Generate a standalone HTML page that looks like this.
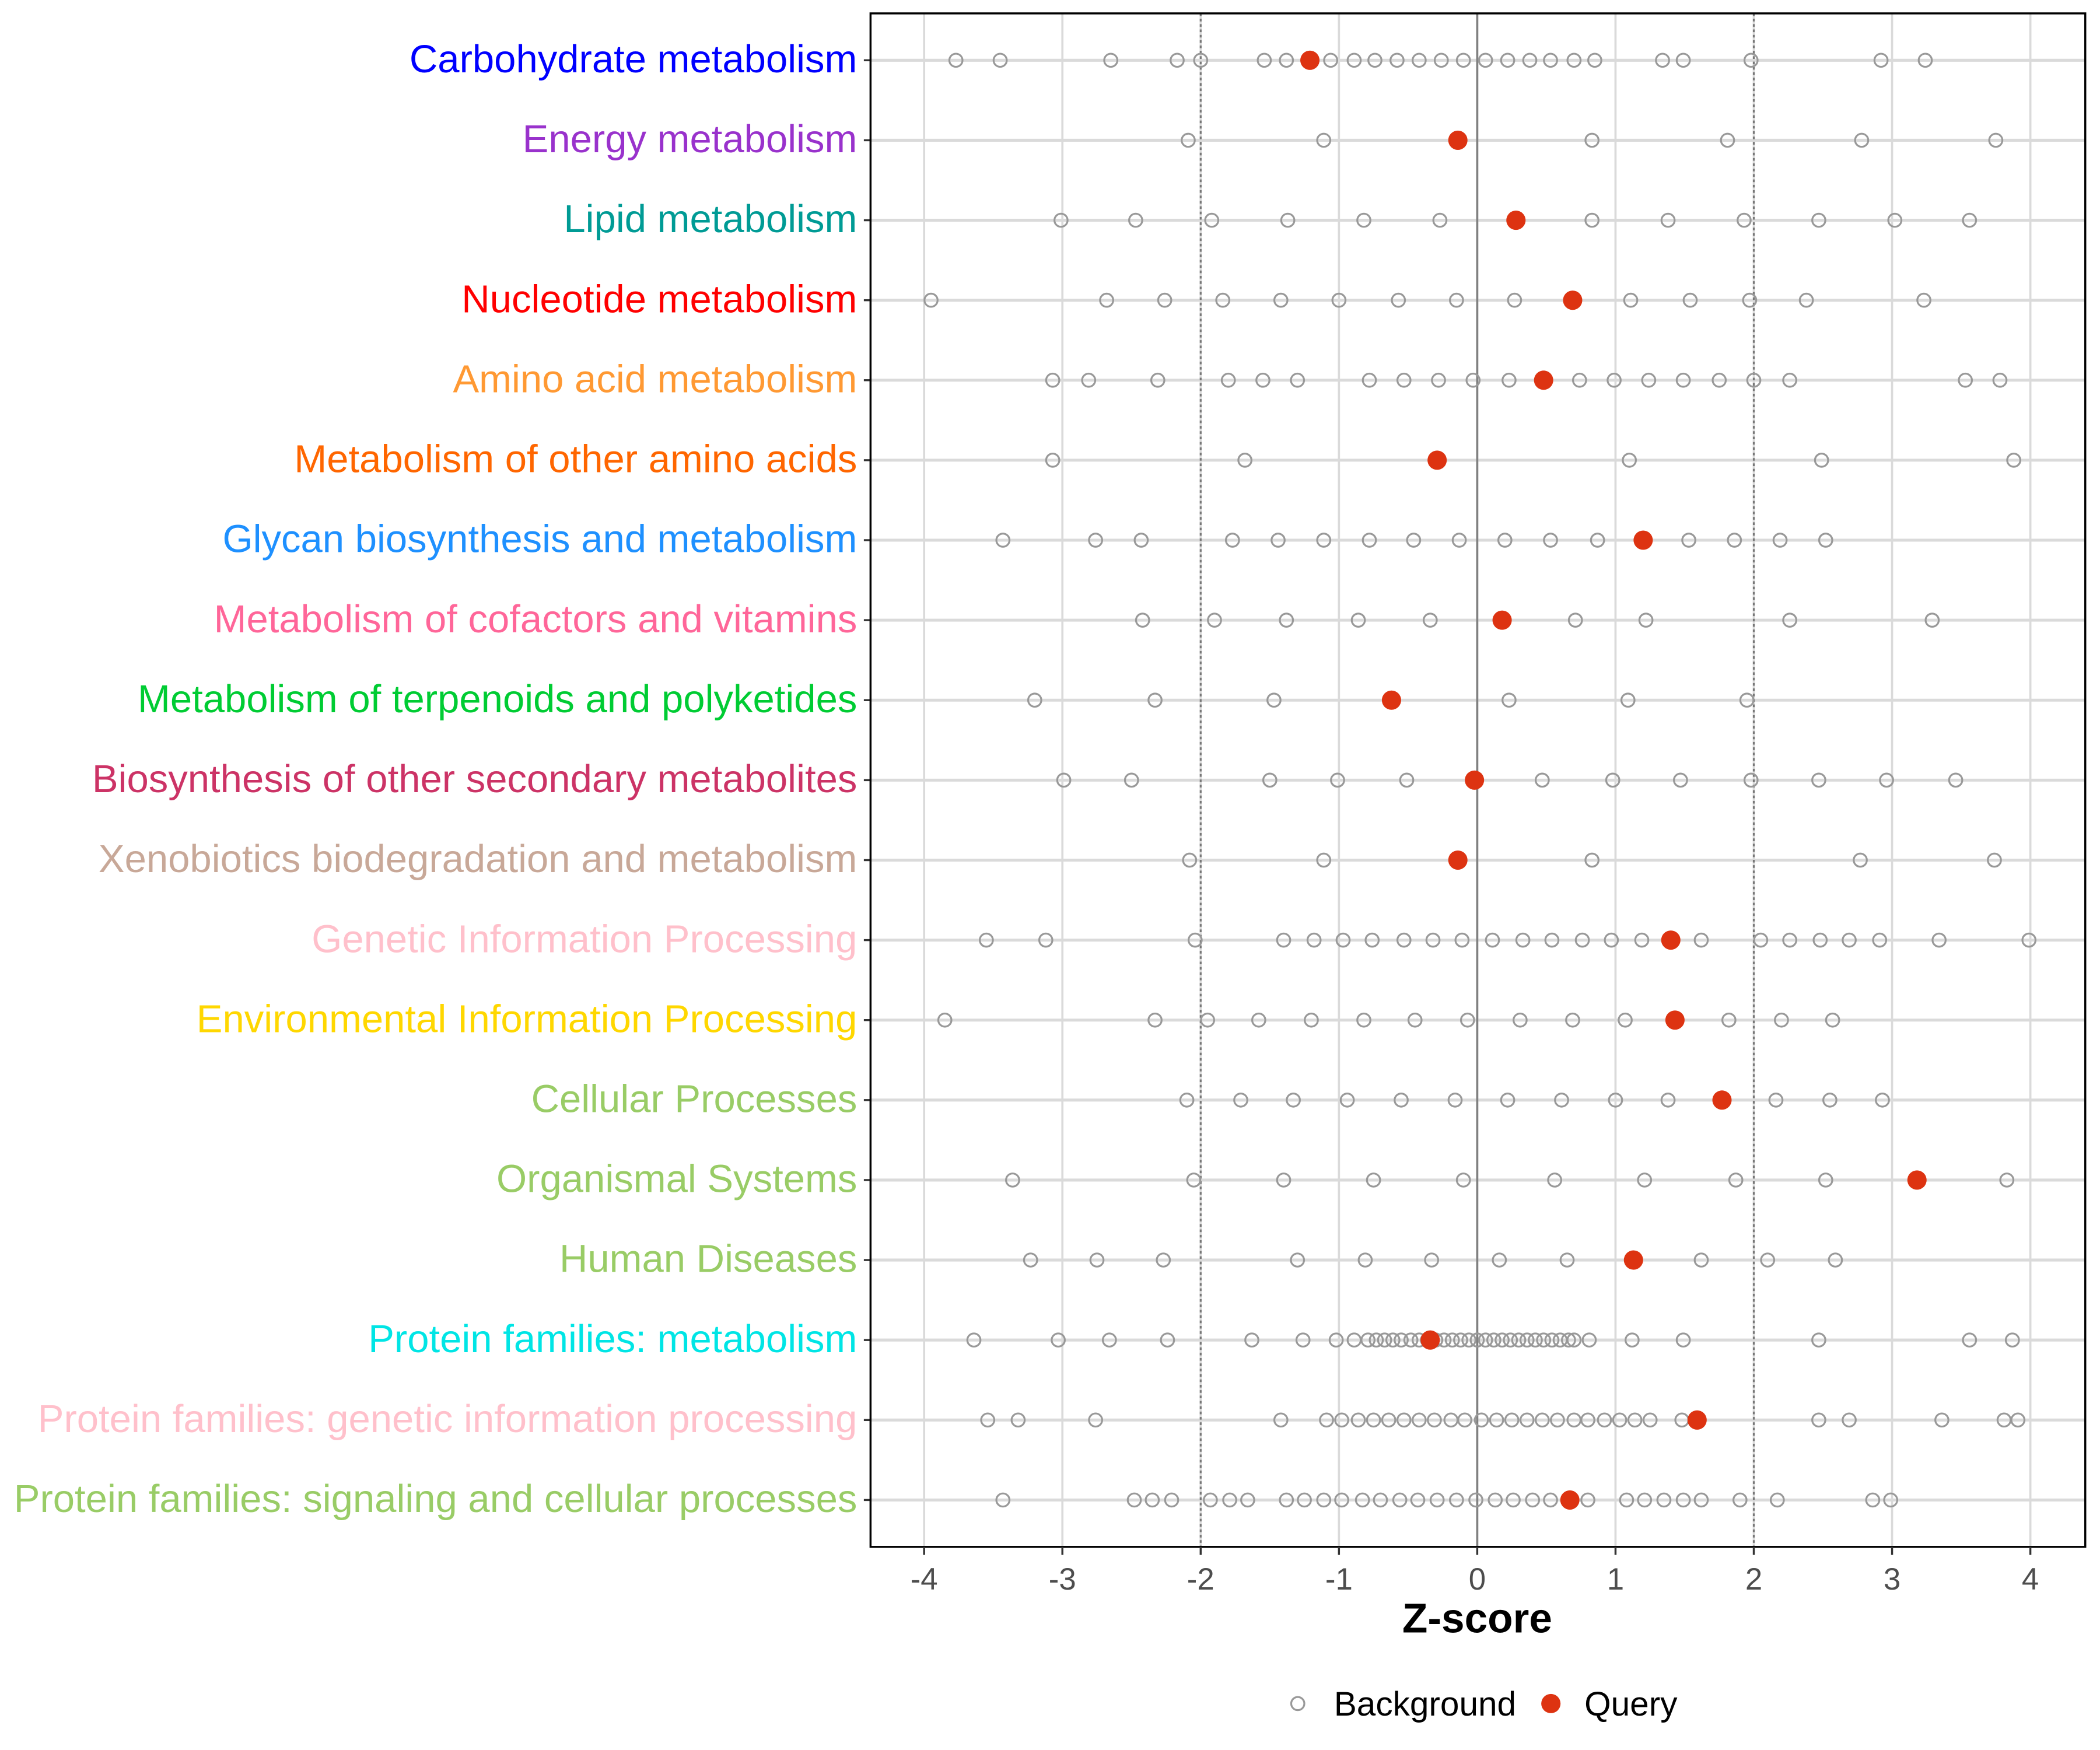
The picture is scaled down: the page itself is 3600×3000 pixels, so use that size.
<!DOCTYPE html>
<html><head><meta charset="utf-8"><style>
html,body{margin:0;padding:0;background:#fff;}
svg{display:block;}
text{font-family:"Liberation Sans",Arial,sans-serif;}
</style></head><body>
<svg id="chart" width="3600" height="3000" viewBox="0 0 1568 1306.67" preserveAspectRatio="none" xmlns="http://www.w3.org/2000/svg"></svg>
<script>
const categories=["Carbohydrate metabolism","Energy metabolism","Lipid metabolism","Nucleotide metabolism","Amino acid metabolism","Metabolism of other amino acids","Glycan biosynthesis and metabolism","Metabolism of cofactors and vitamins","Metabolism of terpenoids and polyketides","Biosynthesis of other secondary metabolites","Xenobiotics biodegradation and metabolism","Genetic Information Processing","Environmental Information Processing","Cellular Processes","Organismal Systems","Human Diseases","Protein families: metabolism","Protein families: genetic information processing","Protein families: signaling and cellular processes"];
const labelColors=["#0000FF","#9932CC","#009B95","#FF0000","#FF9933","#FF6600","#1E90FF","#FF6699","#00CC33","#CC3366","#C8A898","#FFC0CB","#FFD700","#99CC66","#99CC66","#99CC66","#00E5E5","#FFC0CB","#99CC66"];
const queryValues=[-1.21,-0.14,0.28,0.69,0.48,-0.29,1.20,0.18,-0.62,-0.02,-0.14,1.40,1.43,1.77,3.18,1.13,-0.34,1.59,0.67];
const bg1=[-3.77,-3.45,-2.65,-2.17,-2.0,-1.54,-1.38,-1.06,-0.89,-0.74,-0.58,-0.42,-0.26,-0.1,0.06,0.22,0.38,0.53,0.70,0.85,1.34,1.49,1.98,2.92,3.24];
const bg2=[-2.09,-1.11,0.83,1.81,2.78,3.75];
const bg3=[-3.01,-2.47,-1.92,-1.37,-0.82,-0.27,0.83,1.38,1.93,2.47,3.02,3.56];
const bg4=[-3.95,-2.68,-2.26,-1.84,-1.42,-1.0,-0.57,-0.15,0.27,1.11,1.54,1.97,2.38,3.23];
const bg5=[-3.07,-2.81,-2.31,-1.80,-1.55,-1.30,-0.78,-0.53,-0.28,-0.03,0.23,0.74,0.99,1.24,1.49,1.75,2.0,2.26,3.53,3.78];
const bg6=[-3.07,-1.68,1.10,2.49,3.88];
const bg7=[-3.43,-2.76,-2.43,-1.77,-1.44,-1.11,-0.78,-0.46,-0.13,0.20,0.53,0.87,1.53,1.86,2.19,2.52];
const bg8=[-2.42,-1.90,-1.38,-0.86,-0.34,0.71,1.22,2.26,3.29];
const bg9=[-3.20,-2.33,-1.47,0.23,1.09,1.95];
const bg10=[-2.99,-2.50,-1.50,-1.01,-0.51,0.47,0.98,1.47,1.98,2.47,2.96,3.46];
const bg11=[-2.08,-1.11,0.83,2.77,3.74];
const bg12=[-3.55,-3.12,-2.04,-1.40,-1.18,-0.97,-0.76,-0.53,-0.32,-0.11,0.11,0.33,0.54,0.76,0.97,1.19,1.62,2.05,2.26,2.48,2.69,2.91,3.34,3.99];
const bg13=[-3.85,-2.33,-1.95,-1.58,-1.20,-0.82,-0.45,-0.07,0.31,0.69,1.07,1.82,2.20,2.57];
const bg14=[-2.10,-1.71,-1.33,-0.94,-0.55,-0.16,0.22,0.61,1.00,1.38,2.16,2.55,2.93];
const bg15=[-3.36,-2.05,-1.40,-0.75,-0.10,0.56,1.21,1.87,2.52,3.83];
const bg16=[-3.23,-2.75,-2.27,-1.30,-0.81,-0.33,0.16,0.65,1.62,2.10,2.59];
const bg17=[-3.64,-3.03,-2.66,-2.24,-1.63,-1.26,-1.02,-0.89,-0.79,-0.73,-0.67,-0.61,-0.55,-0.48,-0.42,-0.36,-0.30,-0.24,-0.18,-0.12,-0.06,0.0,0.06,0.12,0.18,0.24,0.30,0.36,0.42,0.48,0.54,0.60,0.66,0.70,0.81,1.12,1.49,2.47,3.56,3.87];
const bg18=[-3.54,-3.32,-2.76,-1.42,-1.09,-0.98,-0.86,-0.75,-0.64,-0.53,-0.42,-0.31,-0.19,-0.09,0.03,0.14,0.25,0.36,0.47,0.58,0.70,0.80,0.92,1.03,1.14,1.25,1.48,2.47,2.69,3.36,3.81,3.91];
const bg19=[-3.43,-2.48,-2.35,-2.21,-1.93,-1.79,-1.66,-1.38,-1.25,-1.11,-0.98,-0.83,-0.70,-0.56,-0.43,-0.29,-0.15,-0.01,0.13,0.26,0.40,0.53,0.80,1.08,1.21,1.35,1.49,1.62,1.90,2.17,2.86,2.99];
const backgroundValues=[bg1,bg2,bg3,bg4,bg5,bg6,bg7,bg8,bg9,bg10,bg11,bg12,bg13,bg14,bg15,bg16,bg17,bg18,bg19];
const xTicks=[-4,-3,-2,-1,0,1,2,3,4];
const xTickLabels=["-4","-3","-2","-1","0","1","2","3","4"];

const NS="http://www.w3.org/2000/svg";
const svg=document.getElementById('chart');
const L=650,R=1557,T=10,B=1155;
const xScale=v=>1103+v*103.25;
const yScale=i=>45+i*(1120-45)/18;
function mk(tag,attrs,parent){const e=document.createElementNS(NS,tag);for(const k in attrs)e.setAttribute(k,attrs[k]);(parent||svg).appendChild(e);return e;}

const grid=mk('g',{});


xTicks.forEach(t=>{const l=mk('line',{x1:xScale(t),x2:xScale(t),y1:T,y2:B,stroke:'#dadada','stroke-width':1.6},grid);

});
categories.forEach((c,i)=>{const l=mk('line',{x1:L,x2:R,y1:yScale(i),y2:yScale(i),stroke:'#dadada','stroke-width':2.2},grid);

});
[-2,2].forEach(t=>{const l=mk('line',{x1:xScale(t),x2:xScale(t),y1:T,y2:B,stroke:'#777','stroke-width':1.4,'stroke-dasharray':'2,2'});

});
const zl=mk('line',{x1:xScale(0),x2:xScale(0),y1:T,y2:B,stroke:'#808080','stroke-width':1.6});



categories.forEach((c,i)=>{
 const y=yScale(i);
 const g=mk('g',{});
 
 
 backgroundValues[i].forEach(v=>{const p=mk('circle',{cx:xScale(v),cy:y,r:4.9,fill:'none',stroke:'#999','stroke-width':1.4},g);
 
 });
 const q=mk('circle',{cx:xScale(queryValues[i]),cy:y,r:7.2,fill:'#DD3311'},g);
 
 
 const tk=mk('line',{x1:L-5,x2:L,y1:y,y2:y,stroke:'#333','stroke-width':1.5});
 
 
 const tx=mk('text',{x:640,y:y+9,'text-anchor':'end','font-size':29.2,fill:labelColors[i]});
 tx.textContent=c;
 
 
});
const border=mk('rect',{x:L,y:T,width:R-L,height:B-T,fill:'none',stroke:'#000','stroke-width':1.5});


xTicks.forEach((t,k)=>{const x=xScale(t);
 const tk=mk('line',{x1:x,x2:x,y1:B,y2:B+6,stroke:'#333','stroke-width':1.5});
 
 
 const tx=mk('text',{x:x,y:B+32,'text-anchor':'middle','font-size':23,fill:'#4d4d4d'});
 tx.textContent=xTickLabels[k];
 
 });
const xt=mk('text',{x:1103,y:1219,'text-anchor':'middle','font-size':31,'font-weight':'bold',fill:'#000'});
xt.textContent='Z-score';



const lg=mk('g',{});


const lc1=mk('circle',{cx:969,cy:1272,r:4.9,fill:'none',stroke:'#999','stroke-width':1.4},lg);


const lt1=mk('text',{x:996,y:1281,'font-size':25.5,fill:'#000'},lg);
lt1.textContent='Background';


const lc2=mk('circle',{cx:1158,cy:1272,r:7.2,fill:'#DD3311'},lg);


const lt2=mk('text',{x:1183,y:1281,'font-size':25.5,fill:'#000'},lg);
lt2.textContent='Query';


</script>
</body></html>
